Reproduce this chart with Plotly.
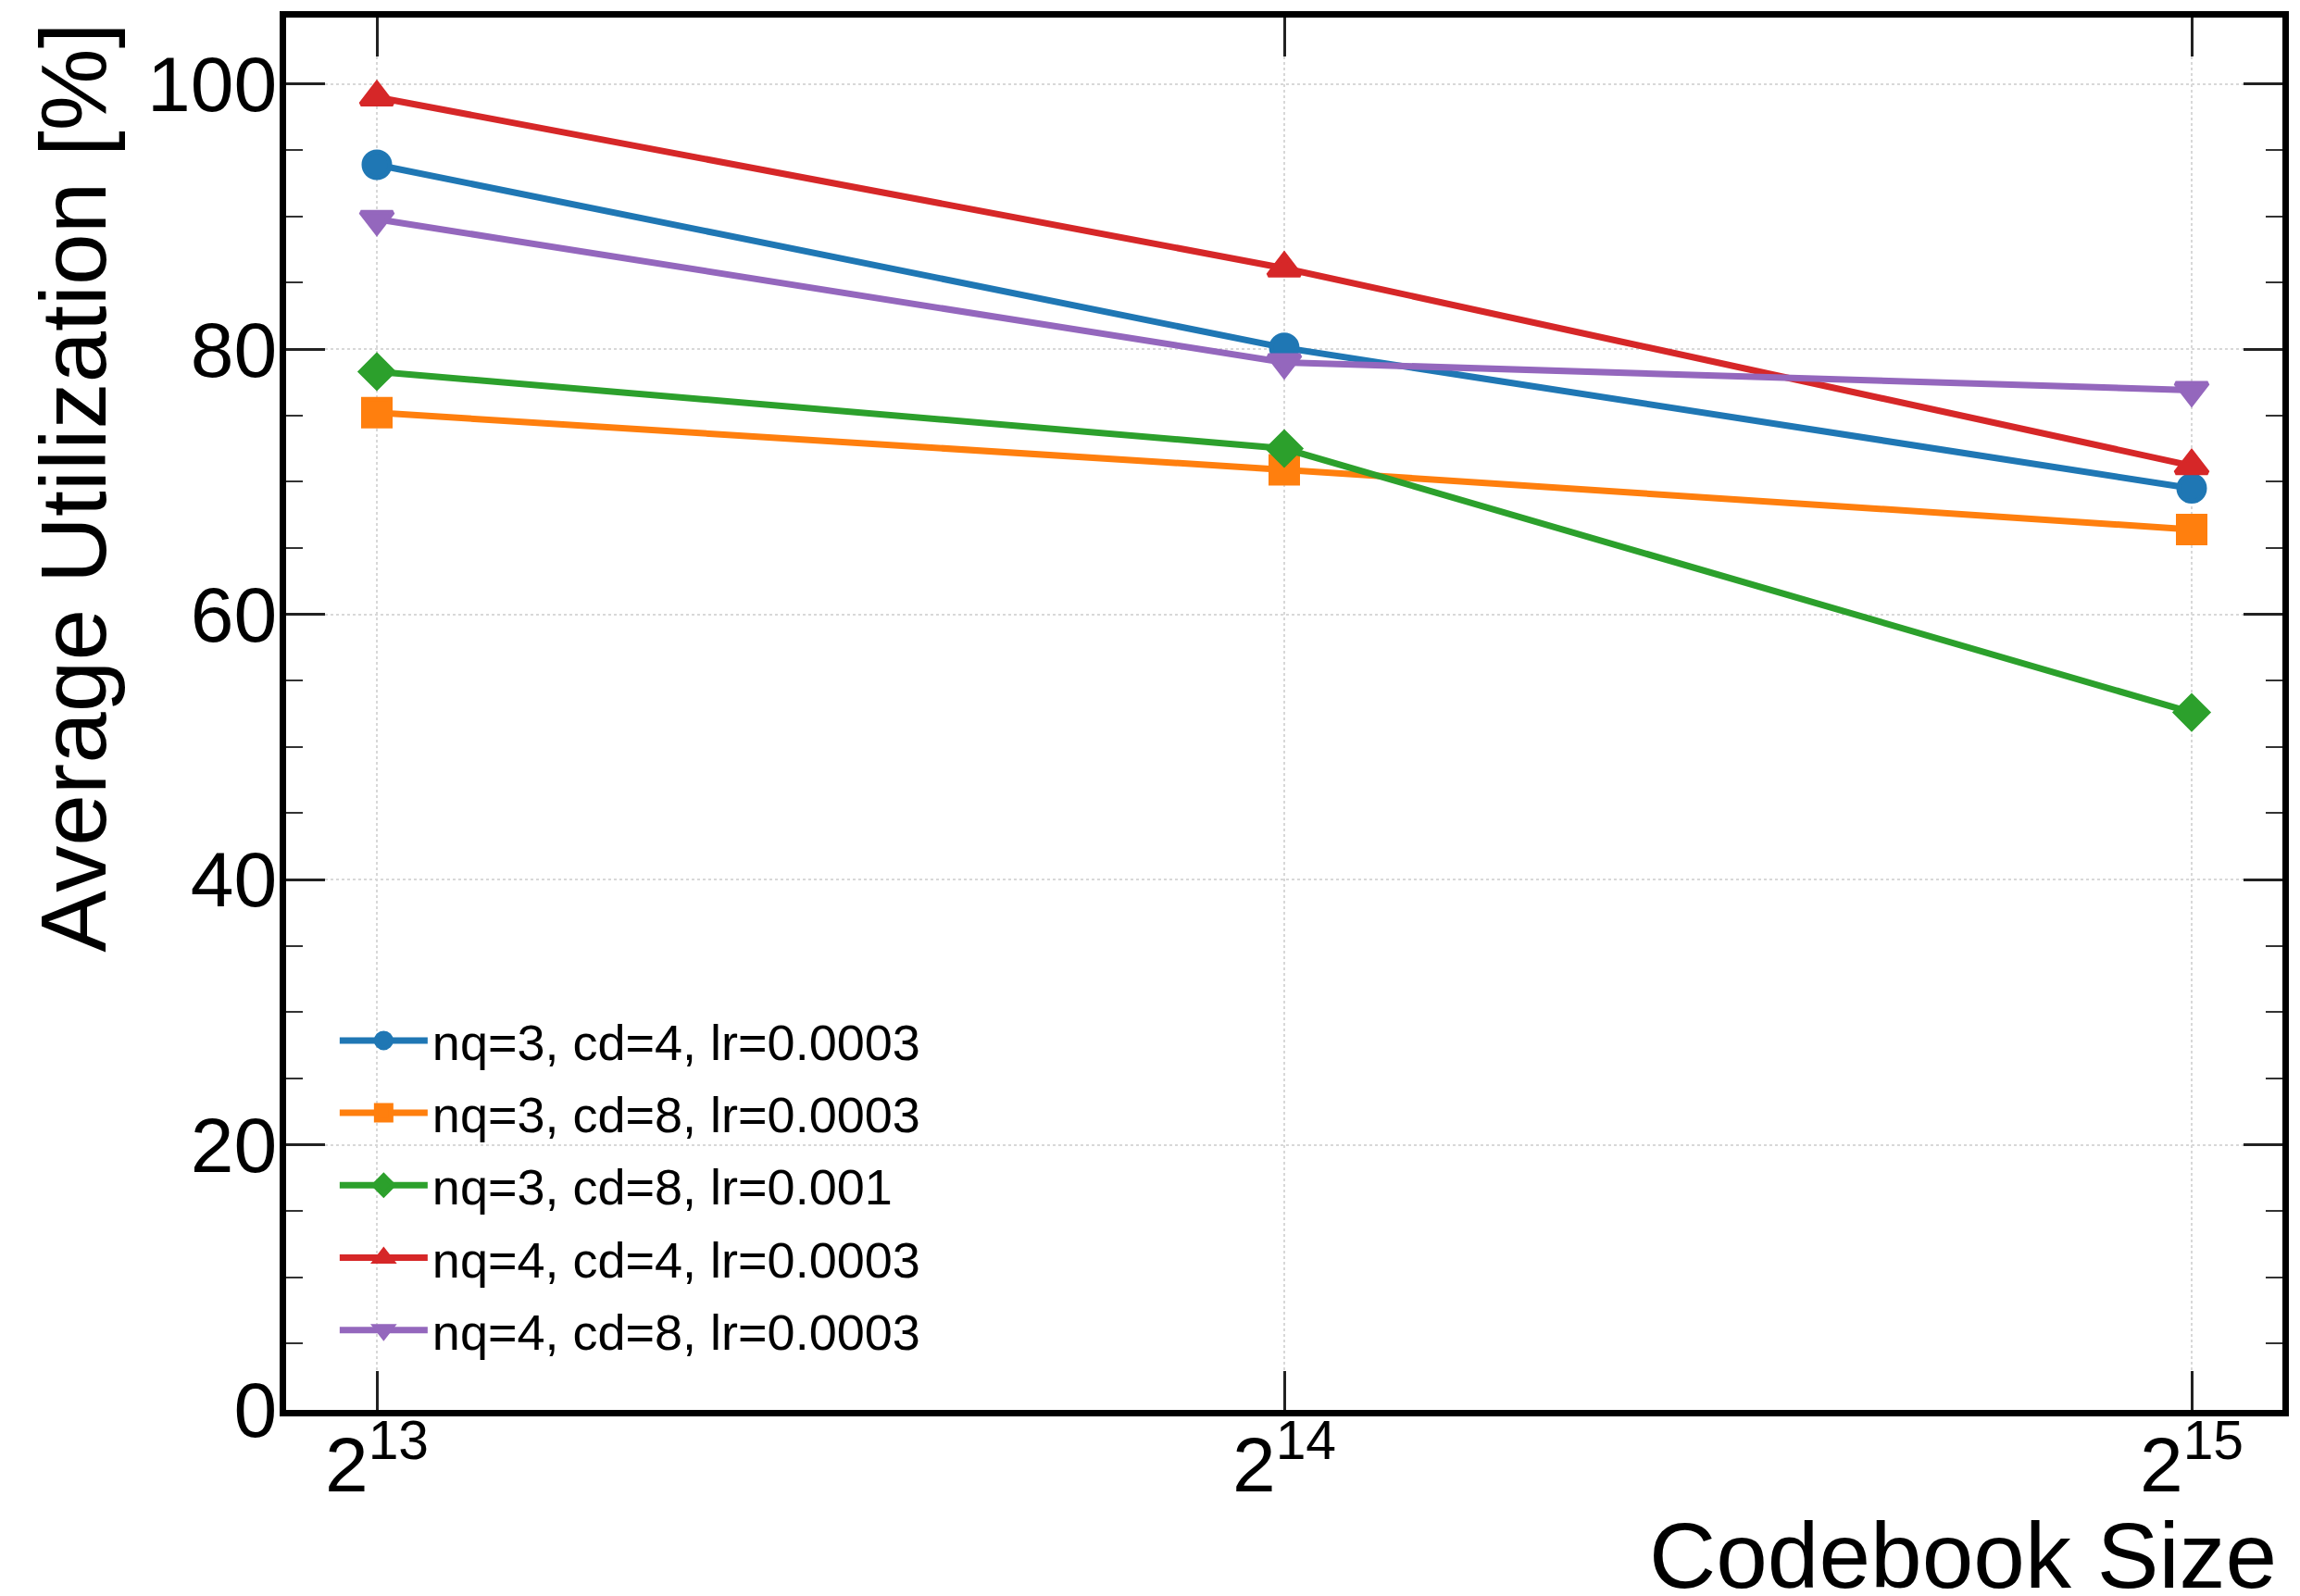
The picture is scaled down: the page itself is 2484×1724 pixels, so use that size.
import math
import plotly.graph_objects as go

# ---- data ----
codebook_sizes = [8192, 16384, 32768]
tick_labels = ["2<sup>13</sup>", "2<sup>14</sup>", "2<sup>15</sup>"]

series_names = [
    "nq=3, cd=4, lr=0.0003",
    "nq=3, cd=8, lr=0.0003",
    "nq=3, cd=8, lr=0.001",
    "nq=4, cd=4, lr=0.0003",
    "nq=4, cd=8, lr=0.0003",
]
util_nq3_cd4_lr3e4 = [93.9, 80.1, 69.5]
util_nq3_cd8_lr3e4 = [75.2, 70.9, 66.4]
util_nq3_cd8_lr1e3 = [78.3, 72.5, 52.6]
util_nq4_cd4_lr3e4 = [99.0, 86.1, 71.2]
util_nq4_cd8_lr3e4 = [89.8, 79.0, 76.9]

series_values = [
    util_nq3_cd4_lr3e4,
    util_nq3_cd8_lr3e4,
    util_nq3_cd8_lr1e3,
    util_nq4_cd4_lr3e4,
    util_nq4_cd8_lr3e4,
]

# ---- styles ----
colors = ["#1f77b4", "#ff7f0e", "#2ca02c", "#d62728", "#9467bd"]
symbols = ["circle", "square", "diamond", "triangle-up", "triangle-down"]
sizes = [28, 29, 27, 30, 30]

FONT = "Liberation Sans, Arial, Helvetica, sans-serif"

fig = go.Figure()
for i, (name, vals) in enumerate(zip(series_names, series_values)):
    fig.add_trace(go.Scatter(
        x=codebook_sizes, y=vals, name=name, mode="lines+markers",
        legendgroup=f"g{i}",
        line=dict(color=colors[i], width=7),
        marker=dict(symbol=symbols[i], size=sizes[i], color=colors[i],
                    line=dict(color=colors[i], width=5)),
    ))

W, H = 2484, 1724
L, R, T, B = 309, 13, 18, 201
pw, ph = W - L - R, H - T - B

def px_x(px):
    return (px - L) / pw

def px_y(py):
    return (H - B - py) / ph

x_lo = math.log10(2 ** 12.9)
x_hi = math.log10(2 ** 15.1)

fig.update_layout(
    width=W, height=H,
    margin=dict(l=L, r=R, t=T, b=B, pad=0),
    paper_bgcolor="white", plot_bgcolor="white",
    font=dict(family=FONT, color="black"),
    showlegend=True,
    legend=dict(
        x=px_x(362), y=px_y(1082), xanchor="left", yanchor="top",
        font=dict(size=54, family=FONT, color="black"),
        bgcolor="rgba(255,255,255,0)", borderwidth=0,
        itemwidth=95, tracegroupgap=5,
    ),
    xaxis=dict(
        type="log", range=[x_lo, x_hi],
        tickmode="array", tickvals=codebook_sizes, ticktext=tick_labels,
        tickfont=dict(size=84, family=FONT, color="black"),
        ticks="inside", ticklen=42, tickwidth=3, tickcolor="#222",
        showline=True, linewidth=7, linecolor="black", mirror="ticks",
        showgrid=True, gridcolor="#d8d8d8", gridwidth=2, griddash="dot",
        zeroline=False, ticklabelstandoff=-20,
    ),
    yaxis=dict(
        range=[0, 105],
        tickmode="array", tickvals=[0, 20, 40, 60, 80, 100],
        tickfont=dict(size=84, family=FONT, color="black"),
        ticks="inside", ticklen=42, tickwidth=3, tickcolor="#222",
        showline=True, linewidth=7, linecolor="black", mirror="allticks",
        showgrid=True, gridcolor="#d8d8d8", gridwidth=2, griddash="dot",
        zeroline=False, ticklabelstandoff=-14,
        minor=dict(dtick=5, tick0=0, ticks="inside", ticklen=18, tickwidth=2,
                   tickcolor="#333", showgrid=False),
    ),
    annotations=[
        dict(text="Codebook Size", xref="paper", yref="paper",
             x=px_x(2467), y=px_y(1680), xanchor="right", yanchor="middle",
             showarrow=False, font=dict(size=100, family=FONT, color="black")),
        dict(text="Average Utilization [%]", xref="paper", yref="paper",
             x=px_x(78), y=px_y(22), xanchor="center", yanchor="top",
             textangle=-90, showarrow=False,
             font=dict(size=100, family=FONT, color="black")),
    ],
)

fig.write_html("out.html")
